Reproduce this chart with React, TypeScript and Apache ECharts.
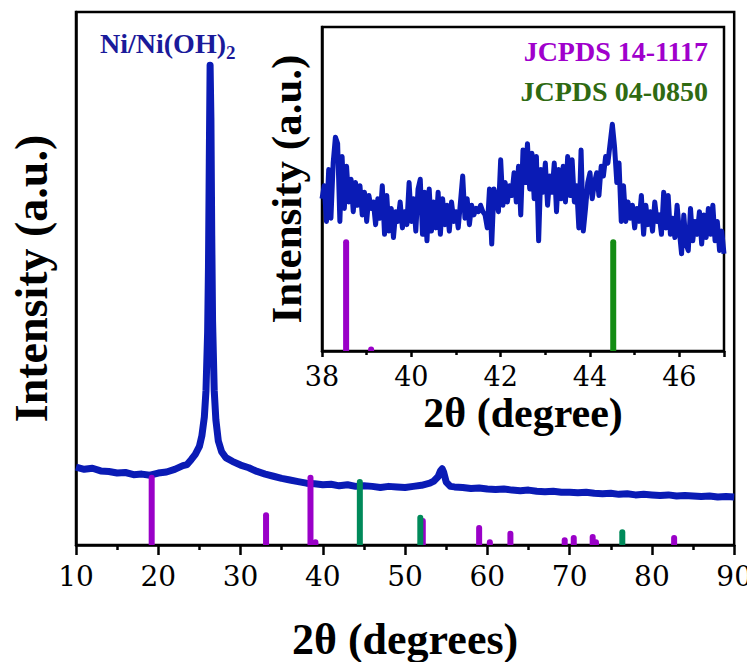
import React, { useEffect, useRef } from "react";
import * as echarts from "echarts";

const FONT = "Liberation Serif";
const TICK_FONT = "DejaVu Serif, Liberation Serif, serif";

// Main XRD pattern (2θ, intensity a.u.)
const mainAngles = [10, 11, 12, 13, 14, 15, 16, 17, 18, 19, 20, 21, 22, 23, 23.5, 24, 24.5, 25, 25.3, 25.6, 25.8, 26.0, 26.1, 26.2, 26.3, 26.4, 26.5, 26.6, 26.8, 27.0, 27.3, 27.7, 28.2, 29, 30, 31, 32, 33, 34, 35, 36, 37, 38, 39, 40, 41, 42, 43, 44, 45, 46, 47, 48, 49, 50, 51, 52, 53, 53.5, 54, 54.3, 54.5, 54.7, 55, 55.5, 56, 57, 58, 59, 60, 61, 62, 63, 64, 65, 66, 67, 68, 69, 70, 71, 72, 73, 74, 75, 76, 77, 78, 79, 80, 81, 82, 83, 84, 85, 86, 87, 88, 89, 90];
const mainIntensity = [14.6, 14.2, 14.4, 13.9, 13.8, 13.5, 13.6, 13.2, 13.3, 13.1, 13.5, 13.7, 14.2, 14.9, 15.1, 16.0, 17.0, 18.5, 20.5, 24, 29, 40, 52, 72, 90, 80, 58, 42, 29, 23.5, 19.5, 17.5, 16.4, 15.7, 15.0, 14.5, 13.8, 13.3, 12.9, 12.5, 12.2, 11.9, 11.6, 11.5, 11.3, 11.4, 11.1, 11.3, 11.0, 11.1, 11.0, 10.8, 11.0, 10.9, 10.8, 11.0, 11.2, 11.6, 12.0, 12.8, 13.9, 14.3, 13.6, 11.8, 11.0, 10.9, 10.8, 10.6, 10.7, 10.5, 10.4, 10.5, 10.3, 10.2, 10.3, 10.1, 10.0, 10.1, 9.9, 9.9, 9.8, 9.9, 9.7, 9.6, 9.7, 9.5, 9.6, 9.4, 9.5, 9.4, 9.3, 9.4, 9.2, 9.3, 9.2, 9.1, 9.2, 9.0, 9.1, 9.0];

// Reference patterns (main panel)
const ni14Pos = [19.2, 33.1, 38.5, 39.1, 52.15, 59.0, 60.3, 62.8, 69.4, 70.5, 72.8, 73.2, 82.7];
const ni14Height = [12.6, 5.6, 12.6, 0.5, 4.5, 3.2, 0.5, 2.1, 0.9, 1.3, 1.5, 0.5, 1.3];
const ni04Pos = [44.5, 51.85, 76.4];
const ni04Height = [11.8, 5.1, 2.4];

// Inset: 38–47°, step 0.05°
const insetStart = 38;
const insetStep = 0.05;
const insetIntensity = [
  47, 51, 40, 56, 41, 58, 66, 64, 40, 60,
  44, 57, 46, 53, 43, 52, 45, 51, 42, 49,
  40, 48, 44, 46, 39, 47, 41, 51, 36, 48,
  37, 44, 35, 43, 40, 46, 38, 43, 39, 52,
  40, 47, 37, 50, 53, 36, 49, 34, 50, 37,
  46, 38, 49, 36, 47, 39, 45, 37, 46, 40,
  43, 38, 46, 54, 41, 47, 39, 45, 42, 44,
  43, 45, 43, 42, 38, 50, 33, 50, 47, 43,
  59, 45, 52, 46, 51, 48, 55, 46, 57, 42,
  62, 52, 64, 50, 61, 47, 60, 34, 56, 49,
  58, 45, 54, 49, 58, 43, 56, 47, 57, 46,
  60, 48, 59, 46, 51, 38, 62, 37, 44, 52,
  55, 47, 52, 55, 48, 57, 54, 60, 58, 64,
  70, 63, 52, 58, 40, 51, 40, 46, 41, 45,
  38, 44, 40, 48, 36, 45, 39, 43, 37, 46,
  40, 42, 36, 49, 38, 48, 36, 41, 35, 45,
  37, 30, 42, 33, 31, 44, 34, 40, 36, 43,
  33, 42, 35, 44, 36, 45, 34, 40, 31, 37,
  30
];
const insetNi14Pos = [38.54, 39.1];
const insetNi14Height = [33.6, 0.5];
const insetNi04Pos = [44.52];
const insetNi04Height = [33.6];

const xTicksMain = { min: 10, max: 90, interval: 10 };
const xTicksInset = { min: 38, max: 47, interval: 2 };

const BLUE = "#0a1bb5";
const MAGENTA = "#9a00c8";
const TEAL = "#008a5a";
const GREEN = "#138c13";

function stickSeries(pos: number[], h: number[], color: string, width: number, axis: number) {
  return {
    type: "custom",
    xAxisIndex: axis,
    yAxisIndex: axis,
    clip: true,
    z: 5,
    data: pos.map((p, i) => [p, h[i]]),
    renderItem: (params: any, api: any) => {
      const b = api.coord([api.value(0), 0]);
      const t = api.coord([api.value(0), api.value(1)]);
      return {
        type: "line",
        shape: { x1: b[0], y1: b[1] + 4, x2: t[0], y2: t[1] },
        style: { stroke: color, lineWidth: width, lineCap: "round" },
      };
    },
  };
}

export default function App() {
  const ref = useRef<HTMLDivElement>(null);
  useEffect(() => {
    if (!ref.current) return;
    const chart = echarts.init(ref.current, undefined, { renderer: "svg" });
    const axisLineStyle = { color: "#000", width: 2.5 };
    const option: any = {
      animation: false,
      textStyle: { fontFamily: FONT },
      grid: [
        { left: 73, right: 18, top: 12, bottom: 125, show: true, borderColor: "#000", borderWidth: 2.5 },
        { left: 322, right: 31, top: 27, bottom: 319, show: true, borderColor: "#000", borderWidth: 2.5, backgroundColor: "#fff" },
      ],
      xAxis: [
        {
          type: "value", gridIndex: 0, ...xTicksMain,
          axisLine: { lineStyle: axisLineStyle },
          axisTick: { length: 10, lineStyle: axisLineStyle },
          minorTick: { show: true, splitNumber: 2, length: 5, lineStyle: axisLineStyle },
          splitLine: { show: false },
          axisLabel: { fontSize: 28, color: "#000", margin: 17, fontFamily: TICK_FONT },
          name: "2θ (degrees)", nameLocation: "middle", nameGap: 72,
          nameTextStyle: { fontSize: 44, fontWeight: "bold", color: "#000", fontFamily: FONT },
        },
        {
          type: "value", gridIndex: 1, ...xTicksInset,
          axisLine: { lineStyle: axisLineStyle },
          axisTick: { length: 6, lineStyle: axisLineStyle },
          minorTick: { show: true, splitNumber: 2, length: 4, lineStyle: axisLineStyle },
          splitLine: { show: false },
          axisLabel: { fontSize: 27, color: "#000", margin: 12, showMaxLabel: false, fontFamily: TICK_FONT },
          name: "2θ (degree)", nameLocation: "middle", nameGap: 41,
          nameTextStyle: { fontSize: 42, fontWeight: "bold", color: "#000", fontFamily: FONT },
        },
      ],
      yAxis: [
        {
          type: "value", gridIndex: 0, min: 0, max: 100,
          axisLine: { show: true, lineStyle: axisLineStyle },
          axisTick: { show: false }, axisLabel: { show: false }, splitLine: { show: false },
          name: "Intensity (a.u.)", nameLocation: "middle", nameGap: 22,
          nameTextStyle: { fontSize: 46, fontWeight: "bold", color: "#000", fontFamily: FONT },
        },
        {
          type: "value", gridIndex: 1, min: 0, max: 100,
          axisLine: { show: true, lineStyle: axisLineStyle },
          axisTick: { show: false }, axisLabel: { show: false }, splitLine: { show: false },
          name: "Intensity (a.u.)", nameLocation: "middle", nameGap: 14,
          nameTextStyle: { fontSize: 43, fontWeight: "bold", color: "#000", fontFamily: FONT },
        },
      ],
      series: [
        {
          type: "line", xAxisIndex: 0, yAxisIndex: 0, showSymbol: false, z: 3,
          data: mainAngles.map((a, i) => [a, mainIntensity[i]]),
          lineStyle: { color: BLUE, width: 7, join: "round" },
        },
        stickSeries(ni14Pos, ni14Height, MAGENTA, 6, 0),
        stickSeries(ni04Pos, ni04Height, TEAL, 6, 0),
        {
          type: "line", xAxisIndex: 1, yAxisIndex: 1, showSymbol: false, z: 3,
          data: insetIntensity.map((v, i) => [insetStart + i * insetStep, v]),
          lineStyle: { color: BLUE, width: 5, join: "round" },
        },
        stickSeries(insetNi14Pos, insetNi14Height, MAGENTA, 6, 1),
        stickSeries(insetNi04Pos, insetNi04Height, GREEN, 6, 1),
      ],
      graphic: [
        { type: "text", x: 100, y: 29, style: { text: "Ni/Ni(OH)", fontFamily: FONT, fontSize: 28, fontWeight: "bold", fill: "#1a1a9a", verticalAlign: "top" } },
        { type: "text", x: 226, y: 43, style: { text: "2", fontFamily: FONT, fontSize: 19, fontWeight: "bold", fill: "#1a1a9a", verticalAlign: "top" } },
        { type: "text", x: 708, y: 37, z: 20, style: { text: "JCPDS 14-1117", fontFamily: FONT, fontSize: 28, fontWeight: "bold", fill: "#a000cc", align: "right", verticalAlign: "top" } },
        { type: "text", x: 708, y: 77, z: 20, style: { text: "JCPDS 04-0850", fontFamily: FONT, fontSize: 28, fontWeight: "bold", fill: "#2f6a12", align: "right", verticalAlign: "top" } },
      ],
    };
    chart.setOption(option);
    return () => chart.dispose();
  }, []);
  return <div ref={ref} style={{ width: 755, height: 670, margin: -8 }} />;
}
